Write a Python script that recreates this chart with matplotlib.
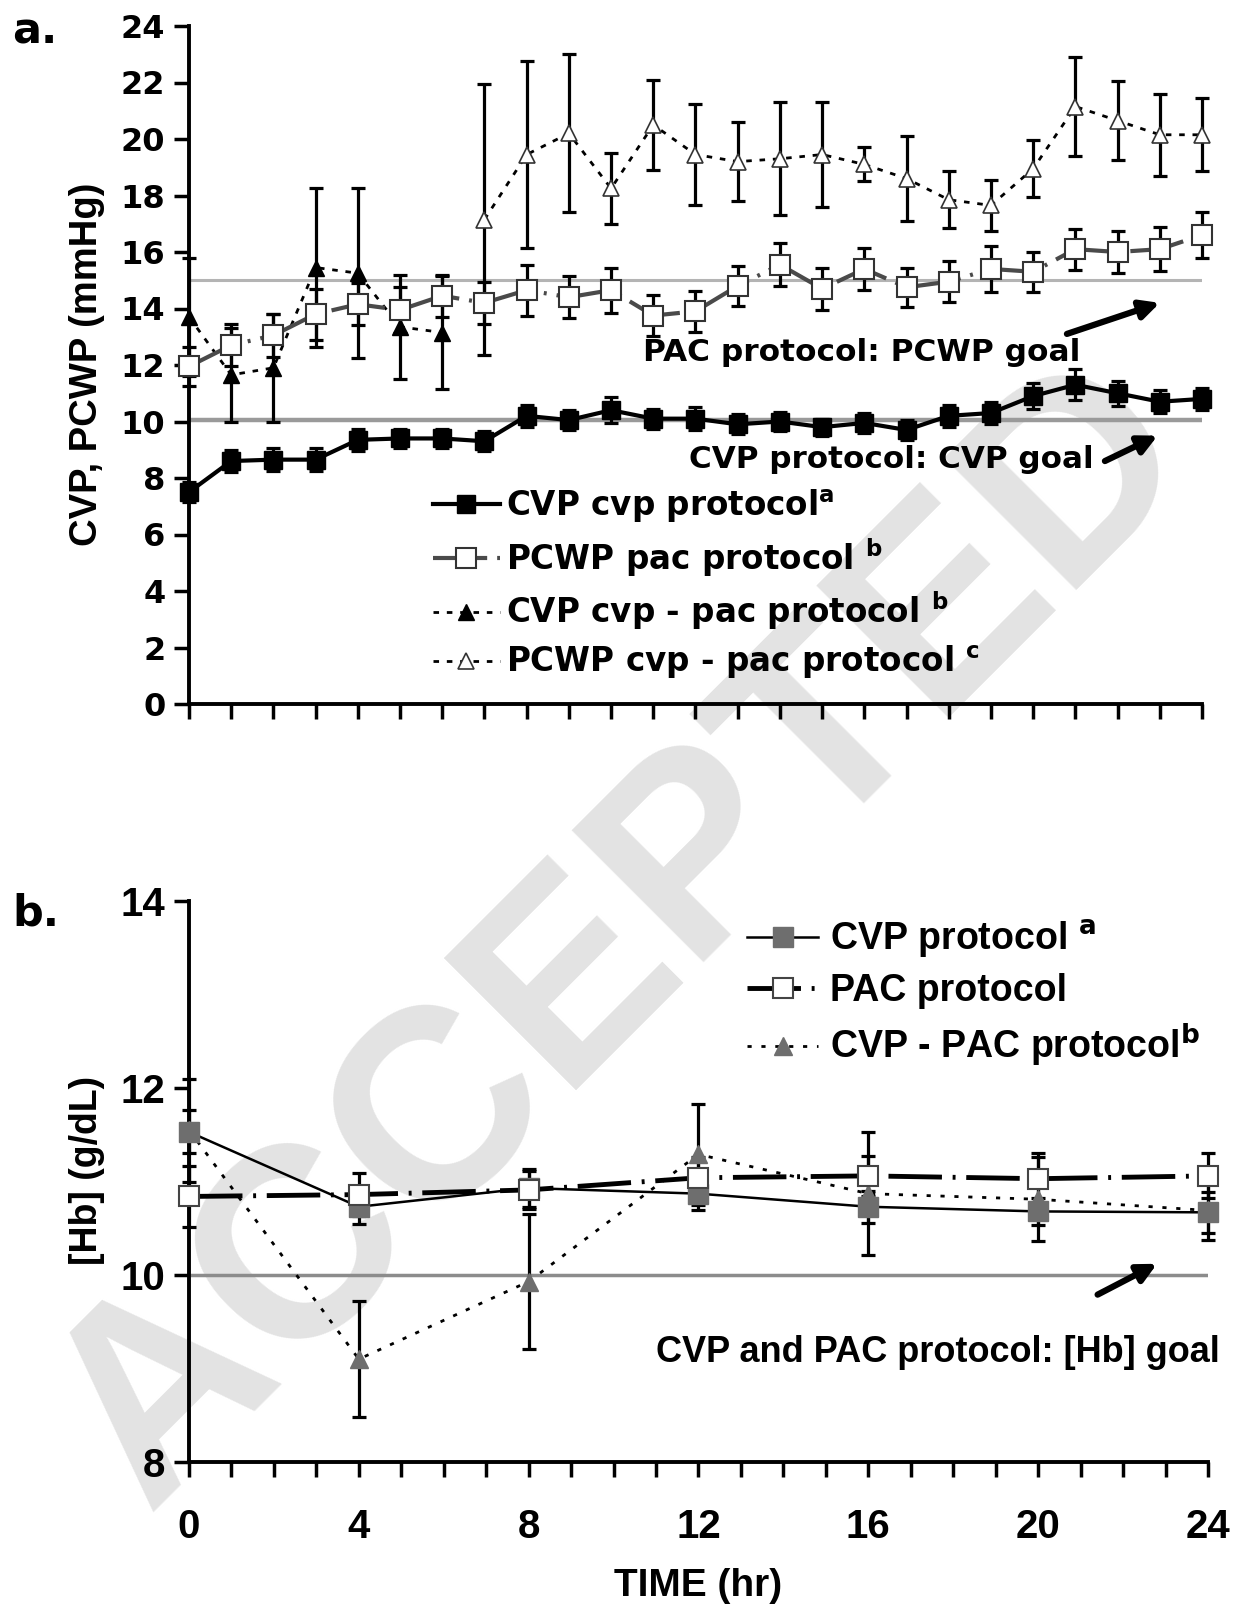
import numpy as np
import matplotlib
matplotlib.use("Agg")
import matplotlib.pyplot as plt
from matplotlib import font_manager
from matplotlib.lines import Line2D

names = {f.name for f in font_manager.fontManager.ttflist}
ARIAL = 'Liberation Sans' if 'Liberation Sans' in names else 'DejaVu Sans'
HEAVY = 'DejaVu Sans'

plt.rcParams['font.family'] = HEAVY
plt.rcParams['font.weight'] = 'bold'
plt.rcParams['mathtext.fontset'] = 'custom'
plt.rcParams['mathtext.rm'] = 'DejaVu Sans:bold'
plt.rcParams['mathtext.it'] = 'DejaVu Sans:bold'
plt.rcParams['mathtext.bf'] = 'DejaVu Sans:bold'

# ---- panel a: hourly pressures (mmHg) ----
hours = np.arange(25)
cvp_cvp = [7.5, 8.6, 8.65, 8.65, 9.35, 9.4, 9.4, 9.3, 10.2, 10.05, 10.4, 10.1, 10.1,
           9.9, 10.0, 9.8, 9.95, 9.7, 10.2, 10.3, 10.9, 11.3, 11.0, 10.7, 10.8]
cvp_cvp_err = [0.35, 0.4, 0.4, 0.4, 0.4, 0.35, 0.35, 0.35, 0.4, 0.35, 0.45, 0.35, 0.4,
               0.35, 0.35, 0.3, 0.35, 0.35, 0.4, 0.4, 0.45, 0.55, 0.45, 0.4, 0.4]
pcwp_pac = [11.95, 12.7, 13.05, 13.8, 14.15, 13.95, 14.45, 14.2, 14.65, 14.4, 14.65, 13.75, 13.9,
            14.8, 15.55, 14.7, 15.4, 14.75, 14.95, 15.4, 15.3, 16.1, 16.0, 16.1, 16.6]
pcwp_pac_err = [0.7, 0.75, 0.75, 0.9, 0.75, 0.8, 0.75, 0.75, 0.9, 0.75, 0.8, 0.72, 0.72,
                0.7, 0.77, 0.74, 0.75, 0.7, 0.72, 0.8, 0.7, 0.72, 0.75, 0.78, 0.83]
cvp_cvppac_h = [0, 1, 2, 3, 4, 5, 6]
cvp_cvppac = [13.7, 11.65, 11.9, 15.45, 15.25, 13.35, 13.15]
cvp_cvppac_err = [2.1, 1.65, 1.9, 2.8, 3.0, 1.85, 2.0]
pcwp_cvppac_h = list(range(7, 25))
pcwp_cvppac = [17.15, 19.45, 20.2, 18.25, 20.5, 19.45, 19.2, 19.3, 19.45, 19.1, 18.6, 17.85,
               17.65, 18.95, 21.15, 20.65, 20.15, 20.15]
pcwp_cvppac_err = [4.8, 3.3, 2.8, 1.25, 1.6, 1.8, 1.4, 2.0, 1.85, 0.6, 1.5, 1.0,
                   0.9, 1.0, 1.75, 1.4, 1.45, 1.3]
pcwp_goal = 15
cvp_goal = 10.05

# ---- panel b: [Hb] every 4 h ----
hb_h = [0, 4, 8, 12, 16, 20, 24]
hb_cvp = [11.53, 10.73, 10.93, 10.87, 10.73, 10.68, 10.67]
hb_cvp_err = [0.23, 0.18, 0.2, 0.17, 0.17, 0.14, 0.22]
hb_pac = [10.84, 10.86, 10.91, 11.04, 11.06, 11.03, 11.06]
hb_pac_err = [0.33, 0.23, 0.2, 0.22, 0.21, 0.27, 0.24]
hb_cvppac = [11.55, 9.1, 9.93, 11.29, 10.87, 10.81, 10.69]
hb_cvppac_err = [0.55, 0.62, 0.72, 0.54, 0.66, 0.45, 0.32]
hb_goal = 10

W, H = 1240, 1609
fig = plt.figure(figsize=(W / 100, H / 100), dpi=100)


def box(l, t, r, b):
    return [l / W, 1 - b / H, (r - l) / W, (b - t) / H]


ax1 = fig.add_axes(box(189, 26, 1202, 704))
ax2 = fig.add_axes(box(189, 901, 1208, 1462))

EB = dict(fmt='none', ecolor='black', elinewidth=2.3, capsize=5, capthick=2.3, zorder=2)
dashes_tri = (0, (2.0, 2.8))
dots_b = (0, (1.5, 3.5))
dashdot = (0, (13, 2.4, 0.7, 2.4))


def errbars(ax, x, y, e):
    c = ax.errorbar(x, y, yerr=e, **EB)
    for art in c.lines[1] + c.lines[2]:
        art.set_clip_on(False)


# panel a
ax1.hlines(pcwp_goal, 0, 24, color='#b4b4b4', lw=2.2, zorder=1)
ax1.hlines(cvp_goal, 0, 24, color='#9a9a9a', lw=3.2, zorder=1)
errbars(ax1, pcwp_cvppac_h, pcwp_cvppac, pcwp_cvppac_err)
errbars(ax1, cvp_cvppac_h, cvp_cvppac, cvp_cvppac_err)
errbars(ax1, hours, pcwp_pac, pcwp_pac_err)
errbars(ax1, hours, cvp_cvp, cvp_cvp_err)
s_tri_o = dict(color='black', lw=2.0, ls=dashes_tri, marker='^', ms=12, mfc='white', mec='#333333', mew=1.2)
s_tri_f = dict(color='black', lw=2.0, ls=dashes_tri, marker='^', ms=12, mfc='black', mec='black')
s_sq_o = dict(color='#4a4a4a', lw=3.0, ls=dashdot, marker='s', ms=14, mfc='white', mec='#333333', mew=1.5)
s_sq_f = dict(color='black', lw=3.0, ls='-', marker='s', ms=13, mfc='black', mec='black')
ax1.plot(pcwp_cvppac_h, pcwp_cvppac, clip_on=False, zorder=3, **s_tri_o)
ax1.plot(cvp_cvppac_h, cvp_cvppac, clip_on=False, zorder=3, **s_tri_f)
ax1.plot(hours, pcwp_pac, clip_on=False, zorder=4, **s_sq_o)
ax1.plot(hours, cvp_cvp, clip_on=False, zorder=5, **s_sq_f)

ax1.set_xlim(0, 24)
ax1.set_ylim(0, 24)
ax1.set_yticks(np.arange(0, 25, 2))
ax1.set_xticks(hours)
ax1.set_xticklabels([])
ax1.tick_params(axis='both', direction='out', length=11, width=2.5, labelsize=23, pad=6)
for ax in (ax1, ax2):
    ax.set_facecolor('none')
    for side in ('top', 'right'):
        ax.spines[side].set_visible(False)
    for side in ('left', 'bottom'):
        ax.spines[side].set_linewidth(2.8)

h1 = [Line2D([], [], **s_sq_f), Line2D([], [], **s_sq_o),
      Line2D([], [], **s_tri_f), Line2D([], [], **s_tri_o)]
l1 = ['CVP cvp protocol$^{\\mathrm{a}}$', 'PCWP pac protocol $^{\\mathrm{b}}$',
      'CVP cvp - pac protocol $^{\\mathrm{b}}$', 'PCWP cvp - pac protocol $^{\\mathrm{c}}$']
ax1.legend(h1, l1, loc='upper left', bbox_to_anchor=(433 / W, 1 - 487 / H),
           bbox_transform=fig.transFigure, frameon=False, numpoints=1,
           handlelength=2.05, handletextpad=0.18, labelspacing=0.35,
           borderpad=0, borderaxespad=0, prop={'size': 23.5, 'weight': 'bold'})

ax1.text(10.76, 12.46, 'PAC protocol: PCWP goal', fontsize=22.5, va='center')
ax1.text(11.85, 8.64, 'CVP protocol: CVP goal', fontsize=22.3, va='center')
AP = dict(arrowstyle='-|>', lw=4.5, color='black', mutation_scale=28, shrinkA=0, shrinkB=0)
ax1.annotate('', xy=(23.0, 14.2), xytext=(20.8, 13.1), arrowprops=AP)
ax1.annotate('', xy=(22.95, 9.5), xytext=(21.7, 8.6), arrowprops=AP)

# panel b
ax2.hlines(hb_goal, 0, 24, color='#8c8c8c', lw=2.5, zorder=1)
errbars(ax2, hb_h, hb_cvppac, hb_cvppac_err)
errbars(ax2, hb_h, hb_pac, hb_pac_err)
errbars(ax2, hb_h, hb_cvp, hb_cvp_err)
b_tri = dict(color='black', lw=2.0, ls=dots_b, marker='^', ms=13, mfc='#6e6e6e', mec='#6e6e6e')
b_sq_o = dict(color='black', lw=3.5, ls=(0, (11, 2.2, 0.6, 2.2)), marker='s', ms=14,
              mfc='white', mec='#444444', mew=1.5)
b_sq_f = dict(color='black', lw=1.8, ls='-', marker='s', ms=14, mfc='#6e6e6e', mec='#6e6e6e')
ax2.plot(hb_h, hb_cvppac, clip_on=False, zorder=3, **b_tri)
ax2.plot(hb_h, hb_cvp, clip_on=False, zorder=4, **b_sq_f)
ax2.plot(hb_h, hb_pac, clip_on=False, zorder=5, **b_sq_o)

ax2.set_xlim(0, 24)
ax2.set_ylim(8, 14)
ax2.set_yticks([8, 10, 12, 14])
ax2.set_xticks(hb_h)
ax2.set_xticks(hours, minor=True)
ax2.tick_params(axis='both', which='both', direction='out', length=11, width=2.5, pad=6)
ax2.tick_params(axis='x', which='major', pad=22)
for lab in ax2.get_xticklabels() + ax2.get_yticklabels():
    lab.set_fontfamily(ARIAL)
    lab.set_fontsize(29)

h2 = [Line2D([], [], **b_sq_f), Line2D([], [], **b_sq_o), Line2D([], [], **b_tri)]
l2 = ['CVP protocol $^{\\mathrm{a}}$', 'PAC protocol', 'CVP - PAC protocol$^{\\mathrm{b}}$']
ax2.legend(h2, l2, loc='upper left', bbox_to_anchor=(747 / W, 1 - 918 / H),
           bbox_transform=fig.transFigure, frameon=False, numpoints=1,
           handlelength=1.9, handletextpad=0.3, labelspacing=0.35,
           borderpad=0, borderaxespad=0, prop={'size': 27, 'weight': 'bold', 'family': ARIAL})
ax2.text(11.0, 9.17, 'CVP and PAC protocol: [Hb] goal', fontsize=26, va='center',
         fontfamily=ARIAL)
ax2.annotate('', xy=(22.8, 10.12), xytext=(21.4, 9.79), arrowprops=AP)

# labels
fig.text(87 / W, 1 - 364 / H, 'CVP, PCWP (mmHg)', rotation=90, ha='center', va='center',
         fontsize=27.5, fontfamily=ARIAL)
fig.text(87 / W, 1 - 1170 / H, '[Hb] (g/dL)', rotation=90, ha='center', va='center',
         fontsize=27, fontfamily=ARIAL)
fig.text(698 / W, 1 - 1586 / H, 'TIME (hr)', ha='center', va='center', fontsize=28,
         fontfamily=ARIAL)
fig.text(12 / W, 1 - 31 / H, 'a.', ha='left', va='center', fontsize=31)
fig.text(12 / W, 1 - 914 / H, 'b.', ha='left', va='center', fontsize=31)

# "ACCEPTED" watermark behind the plots
fig.text(624 / W, 1 - 936 / H, 'ACCEPTED', rotation=45, ha='center', va='center',
         fontsize=195, color='#e3e3e3', zorder=-1, rotation_mode='anchor', fontfamily=ARIAL)

fig.savefig('out.png', dpi=100)
